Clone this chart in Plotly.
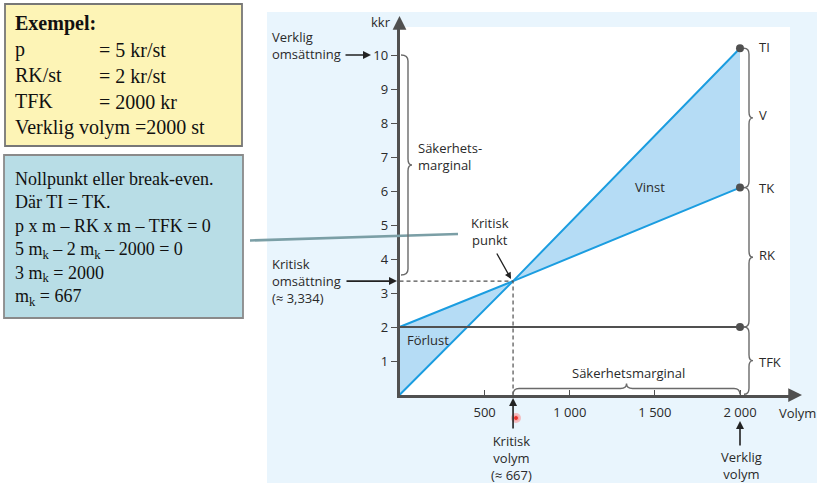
import plotly.graph_objects as go

# ---------------- data ----------------
volym = [0, 667, 2000]          # st
ti = [0, 3.35, 10.2]            # total intäkt (kkr)
tk = [2, 3.35, 6.1]             # total kostnad (kkr)
tfk_x = [0, 2000]
tfk = [2, 2]                    # totala fasta kostnader (kkr)
kritisk_volym = 667
kritisk_oms = 3.35
verklig_volym = 2000
y_ticks = [1, 2, 3, 4, 5, 6, 7, 8, 9, 10]
x_ticks = [500, 1000, 1500, 2000]
x_ticktext = ["500", "1 000", "1 500", "2 000"]

W, H = 817, 486
# pixel geometry of the axes (layout only)
X0PX, X2000PX = 399.5, 740.0
XRIGHT = 790.0
Y0PX, Y10PX = 395.0, 55.0
YTOP = 27.0
xs = (X2000PX - X0PX) / 2000.0
ys = (Y0PX - Y10PX) / 10.0
xmax = (XRIGHT - X0PX) / xs
ymax = (Y0PX - YTOP) / ys


def px(x):
    return x / W


def py(y):
    return 1 - y / H


def dx(p):  # pixel x -> data
    return (p - X0PX) / xs


def dy(p):  # pixel y -> data
    return (Y0PX - p) / ys


BLUE = "#1b9de0"
FILL = "#b5dcf5"
DARK = "#505050"
TXT = "#2a2a2a"
SANS = "Open Sans"
SERIF = "Liberation Serif"

fig = go.Figure()

# TK line then TI with fill between
fig.add_trace(go.Scatter(x=volym, y=tk, mode="lines",
                         line=dict(color=BLUE, width=2), hoverinfo="skip"))
fig.add_trace(go.Scatter(x=volym, y=ti, mode="lines", fill="tonexty",
                         fillcolor=FILL, line=dict(color=BLUE, width=2),
                         hoverinfo="skip"))
# dashed helper lines
fig.add_trace(go.Scatter(x=[0, kritisk_volym, kritisk_volym],
                         y=[kritisk_oms, kritisk_oms, 0], mode="lines",
                         line=dict(color=DARK, width=1.2, dash="4px,3px"),
                         hoverinfo="skip"))
# TFK line
fig.add_trace(go.Scatter(x=tfk_x, y=tfk, mode="lines",
                         line=dict(color=DARK, width=2.2), hoverinfo="skip"))
# end dots
fig.add_trace(go.Scatter(x=[verklig_volym] * 3, y=[ti[-1], tk[-1], tfk[-1]],
                         mode="markers", marker=dict(color=DARK, size=8),
                         hoverinfo="skip"))

shapes = []
# light blue panel and white plotting area
shapes.append(dict(type="rect", xref="paper", yref="paper", layer="below",
                   x0=px(267), x1=px(817), y0=py(483), y1=py(12),
                   fillcolor="#e9f5fd", line=dict(width=0)))
shapes.append(dict(type="rect", xref="paper", yref="paper", layer="below",
                   x0=px(X0PX), x1=px(XRIGHT), y0=py(Y0PX), y1=py(YTOP),
                   fillcolor="white", line=dict(width=0)))
# left boxes
shapes.append(dict(type="rect", xref="paper", yref="paper",
                   x0=px(5), x1=px(242), y0=py(146), y1=py(4),
                   fillcolor="#fdf4b6", line=dict(color="#777777", width=1.8)))
shapes.append(dict(type="rect", xref="paper", yref="paper",
                   x0=px(4), x1=px(243), y0=py(318), y1=py(155),
                   fillcolor="#b8dde6", line=dict(color="#8a8a8a", width=1.8)))
# connector line
shapes.append(dict(type="line", xref="paper", yref="paper",
                   x0=px(250), y0=py(240.5), x1=px(458), y1=py(234),
                   line=dict(color="#7b9fa6", width=2.5)))


def vbrace(x, yt, yb, w, tip, r):
    ym = (yt + yb) / 2
    return (f"M {x - w},{yt} Q {x},{yt} {x},{yt - r} L {x},{ym + r} "
            f"Q {x},{ym} {x + tip},{ym} Q {x},{ym} {x},{ym - r} "
            f"L {x},{yb + r} Q {x},{yb} {x - w},{yb}")


def hbrace(x0, x1, y, h, tip, r):
    xm = (x0 + x1) / 2
    return (f"M {x0},{y - h} Q {x0},{y} {x0 + r},{y} L {xm - r},{y} "
            f"Q {xm},{y} {xm},{y + tip} Q {xm},{y} {xm + r},{y} "
            f"L {x1 - r},{y} Q {x1},{y} {x1},{y - h}")


BR = dict(color="#6a6a6a", width=1.4)
bx = dx(749)
w = 5 / xs
tip = 4 / xs
r = 6 / ys
shapes.append(dict(type="path", xref="x", yref="y", line=BR,
                   path=vbrace(bx, ti[-1], tk[-1], w, tip, r)))
shapes.append(dict(type="path", xref="x", yref="y", line=BR,
                   path=vbrace(bx, tk[-1], tfk[-1], w, tip, r)))
shapes.append(dict(type="path", xref="x", yref="y", line=BR,
                   path=vbrace(bx, tfk[-1], 0.02, w, tip, r)))
# left brace (säkerhetsmarginal on omsättning)
lbx = dx(408)
shapes.append(dict(type="path", xref="x", yref="y", line=BR,
                   path=vbrace(lbx, 10, dy(275), (408 - 401) / xs, tip, r)))
# bottom brace (säkerhetsmarginal on volym)
shapes.append(dict(type="path", xref="x", yref="y", line=BR,
                   path=hbrace(kritisk_volym, verklig_volym, dy(388.5),
                               6 / ys, 5 / ys, 6 / xs)))
# red cursor dot
shapes.append(dict(type="circle", xref="paper", yref="paper",
                   x0=px(511), x1=px(521), y0=py(423), y1=py(413),
                   fillcolor="rgba(255,120,120,0.45)", line=dict(width=0)))
shapes.append(dict(type="circle", xref="paper", yref="paper",
                   x0=px(513.5), x1=px(518.5), y0=py(420.5), y1=py(415.5),
                   fillcolor="#e8302a", line=dict(color="#ffb0b0", width=1)))

ann = []


def txt(x, y, text, size=13, xanchor="center", align="center", font=SANS,
        color=TXT):
    ann.append(dict(xref="paper", yref="paper", x=px(x), y=py(y), text=text,
                    showarrow=False, xanchor=xanchor, yanchor="middle",
                    align=align, font=dict(family=font, size=size, color=color)))


def arrow(x, y, ax, ay, width=1.6, head=2, size=1.0, color="#222222"):
    ann.append(dict(xref="paper", yref="paper", x=px(x), y=py(y), ax=ax - x,
                    ay=ay - y, axref="pixel", ayref="pixel", text="",
                    showarrow=True, arrowhead=head, arrowsize=size,
                    arrowwidth=width, arrowcolor=color))


# yellow box text
txt(13, 76, "<b>Exempel:</b><br>p<br>RK/st<br>TFK<br>Verklig volym =2000 st",
    size=20, xanchor="left", align="left", font=SERIF, color="#111111")
txt(97, 76, "= 5 kr/st<br>= 2 kr/st<br>= 2000 kr", size=20, xanchor="left",
    align="left", font=SERIF, color="#111111")

# blue box text
txt(13, 239, "Nollpunkt eller break-even.<br>Där TI = TK.<br>"
    "p x m – RK x m – TFK = 0<br>5 m<sub>k</sub> – 2 m<sub>k</sub> – 2000 = 0<br>"
    "3 m<sub>k</sub> = 2000<br>m<sub>k</sub> = 667",
    size=18, xanchor="left", align="left", font=SERIF, color="#111111")

# chart labels
txt(381, 22, "kkr")
txt(797, 413, "Volym")
txt(270, 45.5, "Verklig<br>omsättning", xanchor="left", align="left")
arrow(371, Y10PX, 344, Y10PX)
txt(270, 281, "Kritisk<br>omsättning<br>(≈ 3,334)", xanchor="left", align="left")
arrow(397, Y0PX - kritisk_oms * ys, 345, Y0PX - kritisk_oms * ys)
txt(490, 231, "Kritisk<br>punkt")
arrow(511, 279, 496, 252, width=1.3)
txt(650, 187, "Vinst")
txt(428, 340, "Förlust")
txt(416, 156, "Säkerhets-<br>marginal", xanchor="left", align="left")
txt(628, 373, "Säkerhetsmarginal")
txt(512, 458, "Kritisk<br>volym<br>(≈ 667)")
arrow(X0PX + kritisk_volym * xs, 398, X0PX + kritisk_volym * xs, 430)
txt(741, 465, "Verklig<br>volym")
arrow(X0PX + verklig_volym * xs, 421, X0PX + verklig_volym * xs, 447)
txt(757, 47, "TI", xanchor="left")
txt(757, 115, "V", xanchor="left")
txt(757, 188, "TK", xanchor="left")
txt(757, 255, "RK", xanchor="left")
txt(757, 362, "TFK", xanchor="left")

# axis arrowheads
ann.append(dict(xref="x", yref="y", x=0, y=dy(16), ax=0, ay=ymax - 0.05,
                axref="x", ayref="y", text="", showarrow=True, arrowhead=2,
                arrowsize=1.1, arrowwidth=2.5, arrowcolor=DARK))
ann.append(dict(xref="x", yref="y", x=dx(802), y=0, ax=xmax - 5, ay=0,
                axref="x", ayref="y", text="", showarrow=True, arrowhead=2,
                arrowsize=1.1, arrowwidth=2.5, arrowcolor=DARK))

fig.update_layout(
    width=W, height=H, autosize=False,
    margin=dict(l=0, r=0, t=0, b=0),
    paper_bgcolor="white", plot_bgcolor="rgba(0,0,0,0)",
    showlegend=False,
    shapes=shapes, annotations=ann,
    font=dict(family=SANS, size=13, color=TXT),
    xaxis=dict(domain=[px(X0PX), px(XRIGHT)], range=[0, xmax],
               showgrid=False, zeroline=False, showline=True,
               linecolor=DARK, linewidth=2.5, ticks="inside", ticklen=5,
               tickwidth=1.3, tickcolor=DARK, tickvals=x_ticks,
               ticktext=x_ticktext, ticklabelstandoff=4,
               tickfont=dict(family=SANS, size=13, color=TXT),
               fixedrange=True),
    yaxis=dict(domain=[py(Y0PX), py(YTOP)], range=[0, ymax],
               showgrid=False, zeroline=False, showline=True,
               linecolor=DARK, linewidth=2.5, ticks="outside", ticklen=6,
               tickwidth=1.3, tickcolor=DARK, tickvals=y_ticks,
               tickfont=dict(family=SANS, size=13, color=TXT),
               fixedrange=True),
)

fig.write_html("out.html", config={"displayModeBar": False},
               post_script="document.body.style.margin='0';"
                           "document.body.style.overflow='hidden';")
